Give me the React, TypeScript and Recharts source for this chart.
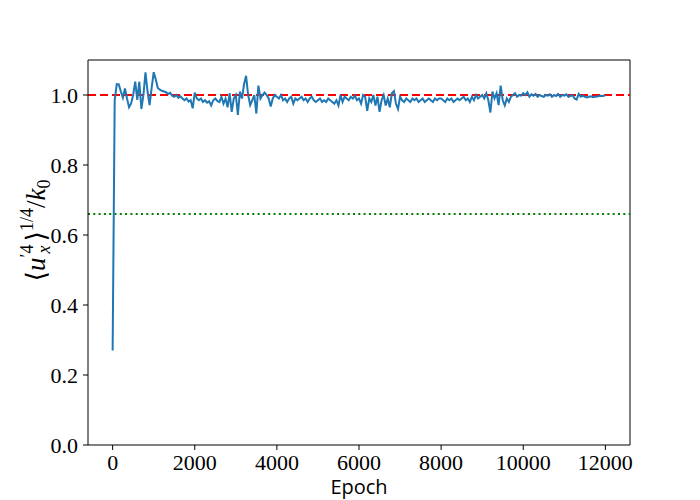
import React from 'react';
import {
  LineChart,
  Line,
  XAxis,
  YAxis,
  ReferenceLine,
} from 'recharts';

const epochStep = 50;
const kurtRoot: number[] = [
  // 0 - 950
  0.27, 0.985, 1.031, 1.03, 1.01, 0.992, 1.019, 0.99, 0.965, 0.976,
  1.0, 1.038, 0.986, 1.038, 0.96, 1.0, 1.065, 1.01, 0.971, 1.02,
  // 1000 - 1950
  1.065, 1.045, 1.02, 1.015, 1.012, 1.01, 1.008, 1.003, 1.006, 0.998,
  0.995, 1.0, 0.992, 0.996, 0.99, 0.985, 0.99, 0.981, 0.985, 0.962,
  // 2000 - 2950
  1.007, 0.99, 0.985, 0.99, 0.98, 0.985, 0.978, 0.982, 0.97, 0.985,
  0.99, 0.983, 0.98, 0.995, 0.975, 0.99, 0.965, 1.005, 0.952, 0.99,
  // 3000 - 3950
  1.0, 0.943, 1.01, 0.99, 1.03, 1.055, 1.0, 0.971, 0.985, 1.0,
  0.947, 1.027, 0.99, 1.0, 1.007, 1.0, 0.99, 0.967, 0.99, 1.0,
  // 4000 - 4950
  0.995, 0.99, 1.0, 0.985, 0.99, 0.98, 0.99, 0.995, 0.975, 0.99,
  0.985, 0.99, 0.995, 0.985, 0.99, 0.98, 0.99, 0.995, 0.985, 0.98,
  // 5000 - 5950
  0.985, 0.99, 0.98, 0.985, 0.98, 0.99, 0.985, 0.98, 0.975, 0.985,
  0.97, 1.0, 0.98, 0.995, 0.99, 0.985, 0.995, 0.99, 0.998, 0.985,
  // 6000 - 6950
  0.99, 0.975, 1.0, 0.995, 0.955, 0.99, 0.98, 1.0, 0.97, 0.995,
  0.952, 0.985, 1.0, 0.97, 0.99, 0.965, 1.005, 1.011, 0.975, 0.96,
  // 7000 - 7950
  0.995, 0.985, 0.98, 0.99, 0.985, 0.98, 0.99, 0.985, 0.99, 0.98,
  0.985, 0.99, 0.98, 0.985, 0.99, 0.985, 0.98, 0.99, 0.985, 0.99,
  // 8000 - 8950
  0.99, 0.985, 0.98, 0.99, 0.985, 0.99, 0.98, 0.985, 0.99, 0.985,
  0.99, 0.995, 0.985, 0.99, 0.98, 0.995, 0.985, 1.0, 0.99, 0.995,
  // 9000 - 9950
  1.0, 0.99, 1.005, 0.985, 0.95, 1.01, 0.99, 1.005, 0.971, 1.027,
  0.985, 0.97, 0.99, 0.98, 0.995, 1.0, 1.005, 0.995, 1.0, 0.998,
  // 10000 - 10950
  1.005, 1.0, 1.008, 0.995, 1.002, 0.998, 1.003, 0.995, 1.0, 0.997,
  0.995, 1.0, 0.998, 1.002, 0.995, 1.0, 0.997, 1.003, 0.995, 1.0,
  // 11000 - 11950
  0.998, 1.002, 0.995, 0.997, 1.0, 0.99, 0.987, 1.003, 0.995, 0.998,
  0.995, 0.993, 0.995, 0.996, 0.994, 0.995, 0.996, 0.997, 0.998, 0.997,
  // 12000
  1.0,
];

const xTicks = [0, 2000, 4000, 6000, 8000, 10000, 12000];
const yTicks = [0, 0.2, 0.4, 0.6, 0.8, 1.0];
const xDomain = [-600, 12600];
const yDomain = [0, 1.1];
const targetLine = 1.0;
const lowerLine = 0.66;

const data = kurtRoot.map((v, i) => ({ epoch: i * epochStep, value: v }));

const serif = '"Liberation Serif", "DejaVu Serif", serif';
const sans = '"Open Sans", "DejaVu Sans", sans-serif';

const YLabel = (props: any) => {
  const vb = props.viewBox || {};
  const cx = 45;
  const cy = (vb.y ?? 60) + (vb.height ?? 385) / 2 - 22;
  return (
    <text
      x={cx}
      y={cy}
      transform={`rotate(-90, ${cx}, ${cy})`}
      textAnchor="middle"
      fontFamily={serif}
      fontSize={27}
      fill="#000"
    >
      <tspan>⟨</tspan>
      <tspan fontStyle="italic">u</tspan>
      <tspan fontSize={18} dy={-12}>′4</tspan>
      <tspan fontSize={18} fontStyle="italic" dx={-9} dy={17}>x</tspan>
      <tspan dx={4} dy={-5}>⟩</tspan>
      <tspan fontSize={18} dy={-12}>1/4</tspan>
      <tspan dy={12}>/</tspan>
      <tspan fontStyle="italic">k</tspan>
      <tspan fontSize={18} dy={5}>0</tspan>
    </text>
  );
};

const XLabel = (props: any) => {
  const vb = props.viewBox || {};
  const cx = (vb.x ?? 88) + (vb.width ?? 542) / 2;
  return (
    <text x={cx} y={494} textAnchor="middle" fontFamily={sans} fontSize={20} fill="#000">
      Epoch
    </text>
  );
};

export default function App() {
  return (
    <div style={{ position: 'fixed', left: 0, top: 0, width: 700, height: 500, background: '#fff' }}>
      <LineChart
        width={700}
        height={500}
        data={data}
        margin={{ top: 60, right: 70, left: 0, bottom: 0 }}
      >
        <XAxis
          dataKey="epoch"
          type="number"
          domain={xDomain}
          ticks={xTicks}
          height={55}
          tickSize={5}
          tickMargin={4}
          axisLine={{ stroke: '#000', strokeWidth: 1 }}
          tickLine={{ stroke: '#000' }}
          tick={{ fill: '#000', fontFamily: serif, fontSize: 22 }}
          allowDataOverflow
          label={<XLabel />}
        />
        <YAxis
          type="number"
          domain={yDomain}
          ticks={yTicks}
          width={88}
          tickSize={5}
          tickMargin={5}
          allowDataOverflow
          axisLine={{ stroke: '#000', strokeWidth: 1 }}
          tickLine={{ stroke: '#000' }}
          tick={{ fill: '#000', fontFamily: serif, fontSize: 22 }}
          tickFormatter={(v: number) => v.toFixed(1)}
          label={<YLabel />}
        />
        {/* top and right frame */}
        <ReferenceLine y={yDomain[1]} stroke="#000" strokeWidth={1} />
        <ReferenceLine x={xDomain[1]} stroke="#000" strokeWidth={1} />
        <ReferenceLine y={targetLine} stroke="#ff0000" strokeWidth={2} strokeDasharray="8 4" />
        <ReferenceLine y={lowerLine} stroke="#008000" strokeWidth={2} strokeDasharray="2 3.3" />
        <Line
          type="linear"
          dataKey="value"
          stroke="#1f77b4"
          strokeWidth={2}
          dot={false}
          isAnimationActive={false}
        />
      </LineChart>
    </div>
  );
}
